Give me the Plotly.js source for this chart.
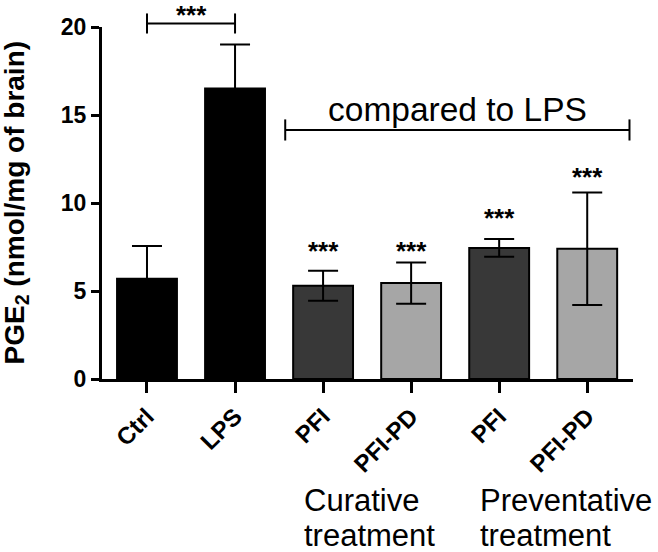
<!DOCTYPE html>
<html>
<head>
<meta charset="utf-8">
<script src="https://cdn.plot.ly/plotly-3.0.1.min.js"></script>
<style>html,body{margin:0;padding:0;background:#fff;}#chart{width:658px;height:552px;}</style>
</head>
<body>
<div id="chart"></div>
<script>
// ---- data ----
const categories = ["Ctrl", "LPS", "PFI", "PFI-PD", "PFI", "PFI-PD"];
const groups = ["control", "control", "PFI", "PFI-PD", "PFI", "PFI-PD"];
const means = [5.7, 16.5, 5.3, 5.45, 7.45, 7.4];
const errors = [1.85, 2.5, 0.85, 1.17, 0.5, 3.2];
const sigLabels = ["", "", "***", "***", "***", "***"];
const sigLevels = [null, null, 7.3, 7.3, 9.15, 11.5];
const yTicks = [0, 5, 10, 15, 20];
const treatmentGroups = [
  {first: 2, lines: ["Curative", "treatment"]},
  {first: 4, lines: ["Preventative", "treatment"]}
];

// ---- styling ----
const FONT = "Liberation Sans, Arial, sans-serif";
const fillFor = {control: "#000000", "PFI": "#383838", "PFI-PD": "#a6a6a6"};
const xIdx = categories.map((_, i) => i);
const Y_MAX = 20;

const trace = {
  type: "bar",
  x: xIdx,
  y: means,
  width: 0.68,
  marker: {
    color: groups.map(g => fillFor[g]),
    line: {color: "#000", width: 2}
  },
  error_y: {type: "data", array: errors, visible: true, color: "#000", thickness: 2, width: 15},
  hoverinfo: "none",
  cliponaxis: false
};

const annotations = [];
// y axis title
annotations.push({
  xref: "paper", yref: "paper", x: (15.5 - 102) / 531, y: 0.5,
  xanchor: "center", yanchor: "middle", textangle: -90, showarrow: false,
  text: "PGE<sub>2</sub> (nmol/mg of brain)",
  font: {family: FONT, size: 28, color: "#000", weight: "bold"}
});
// significance stars above treated bars
xIdx.forEach(i => {
  if (sigLabels[i]) {
    annotations.push({
      xref: "x", yref: "y", x: i, y: sigLevels[i], xanchor: "center", yanchor: "middle",
      showarrow: false, text: sigLabels[i],
      font: {family: FONT, size: 26, color: "#000", weight: "bold"}
    });
  }
});
// stars over Ctrl vs LPS bracket (paper y so it is not clipped above the axis range)
const topBracketY = 20.2 / Y_MAX;
const topTick = 0.57 / Y_MAX;
annotations.push({
  xref: "x", yref: "paper", x: 0.5, y: topBracketY, yshift: 8, xanchor: "center", yanchor: "middle",
  showarrow: false, text: "***", font: {family: FONT, size: 26, color: "#000", weight: "bold"}
});
// compared to LPS bracket label
const cmpX0 = 1.57, cmpX1 = 5.48, cmpY = 14.15;
annotations.push({
  xref: "x", yref: "y", x: (cmpX0 + cmpX1) / 2, y: 15.3, xanchor: "center", yanchor: "middle",
  showarrow: false, text: "compared to LPS", font: {family: FONT, size: 33.5, color: "#000"}
});
// treatment group labels below axis
const linePaperY = [(379 - 500) / 352, (379 - 535) / 352];
treatmentGroups.forEach(g => {
  g.lines.forEach((t, k) => {
    annotations.push({
      xref: "x", yref: "paper", x: g.first - 0.24, y: linePaperY[k],
      xanchor: "left", yanchor: "middle", align: "left", showarrow: false,
      text: t, font: {family: FONT, size: 31, color: "#000"}
    });
  });
});

const line = {color: "#000", width: 2};
const shapes = [
  {type: "line", xref: "x", yref: "paper", x0: 0, x1: 1, y0: topBracketY, y1: topBracketY, line},
  {type: "line", xref: "x", yref: "paper", x0: 0, x1: 0, y0: topBracketY - topTick, y1: topBracketY + topTick, line},
  {type: "line", xref: "x", yref: "paper", x0: 1, x1: 1, y0: topBracketY - topTick, y1: topBracketY + topTick, line},
  {type: "line", xref: "x", yref: "y", x0: cmpX0, x1: cmpX1, y0: cmpY, y1: cmpY, line},
  {type: "line", xref: "x", yref: "y", x0: cmpX0, x1: cmpX0, y0: cmpY - 0.6, y1: cmpY + 0.6, line},
  {type: "line", xref: "x", yref: "y", x0: cmpX1, x1: cmpX1, y0: cmpY - 0.6, y1: cmpY + 0.6, line}
];

const layout = {
  width: 658, height: 552,
  margin: {l: 102, r: 25, t: 27, b: 173, pad: 0},
  paper_bgcolor: "#fff", plot_bgcolor: "#fff",
  showlegend: false,
  xaxis: {
    range: [-0.511, 5.52], tickvals: xIdx, ticktext: categories, tickangle: -45,
    ticks: "outside", ticklen: 11, tickwidth: 3, tickcolor: "#000",
    showline: true, linewidth: 3, linecolor: "#000", showgrid: false, zeroline: false,
    tickfont: {family: FONT, size: 24, color: "#000", weight: "bold"}, fixedrange: true
  },
  yaxis: {
    range: [0, Y_MAX], tickvals: yTicks, ticktext: yTicks.map(String),
    ticks: "outside", ticklen: 8, tickwidth: 3, tickcolor: "#000",
    showline: true, linewidth: 3, linecolor: "#000", showgrid: false, zeroline: false,
    tickfont: {family: FONT, size: 23, color: "#000", weight: "bold"}, fixedrange: true
  },
  annotations, shapes
};

Plotly.newPlot("chart", [trace], layout, {displayModeBar: false, staticPlot: true});
</script>
</body>
</html>
